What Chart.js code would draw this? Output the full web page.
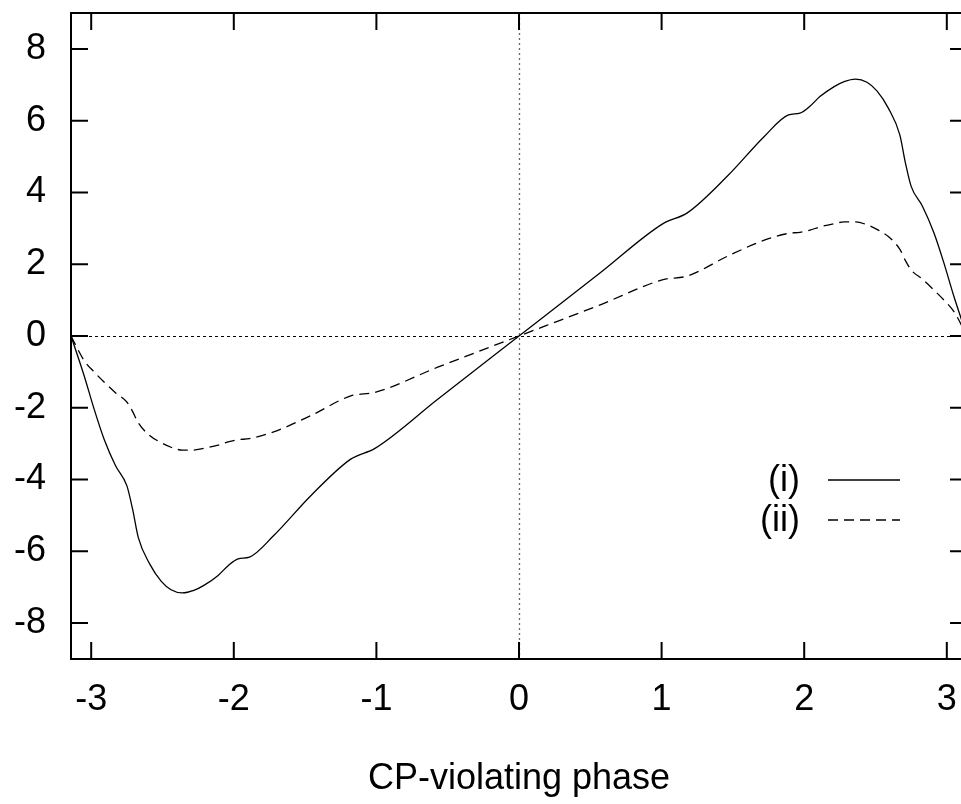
<!DOCTYPE html>
<html>
<head>
<meta charset="utf-8">
<script src="https://cdn.jsdelivr.net/npm/chart.js@4/dist/chart.umd.min.js"></script>
<style>
    html, body { margin: 0; padding: 0; background: #fff; overflow: hidden; }
    #wrap { width: 980px; height: 804px; position: relative; }
</style>
</head>
<body>
<div id="wrap"><canvas id="phaseChart"></canvas></div>
<script>
// CP-violating phase (x) and the two curves
const phase = [
    -3.1416, -3.05, -2.98, -2.91, -2.83, -2.75, -2.71, -2.67, -2.59, -2.51, -2.44, -2.36,
    -2.28, -2.21, -2.11, -2.04, -1.97, -1.89, -1.72, -1.46, -1.18, -1.01, -0.57, 0,
    0.57, 1.01, 1.18, 1.46, 1.72, 1.89, 1.97, 2.04, 2.11, 2.21, 2.28, 2.36,
    2.44, 2.51, 2.59, 2.67, 2.71, 2.75, 2.83, 2.91, 2.98, 3.05, 3.1416
];
const seriesI = [
    0, -1.10, -2.03, -2.87, -3.61, -4.17, -4.82, -5.61, -6.35, -6.83, -7.07, -7.16,
    -7.09, -6.95, -6.67, -6.40, -6.21, -6.16, -5.56, -4.45, -3.43, -3.13, -1.76, 0,
    1.76, 3.13, 3.43, 4.45, 5.56, 6.16, 6.21, 6.40, 6.67, 6.95, 7.09, 7.16,
    7.07, 6.83, 6.35, 5.61, 4.82, 4.17, 3.61, 2.87, 2.03, 1.10, 0
];
const seriesII = [
    0, -0.68, -1.00, -1.28, -1.58, -1.84, -2.10, -2.42, -2.77, -2.97, -3.10, -3.18,
    -3.18, -3.13, -3.04, -2.95, -2.89, -2.86, -2.67, -2.22, -1.67, -1.57, -0.87, 0,
    0.87, 1.57, 1.67, 2.22, 2.67, 2.86, 2.89, 2.95, 3.04, 3.13, 3.18, 3.18,
    3.10, 2.97, 2.77, 2.42, 2.10, 1.84, 1.58, 1.28, 1.00, 0.68, 0
];
const xTicks = [-3, -2, -1, 0, 1, 2, 3];
const yTicks = [-8, -6, -4, -2, 0, 2, 4, 6, 8];
const legendLabels = ['(i)', '(ii)'];

const FONT = 'Liberation Sans, Arial, Helvetica, sans-serif';

// gnuplot-like frame, inward ticks, zero lines and key
const framePlugin = {
    id: 'frame',
    beforeDatasetsDraw(chart) {
        const { ctx, chartArea: a, scales: { x, y } } = chart;
        ctx.save();
        // zero lines
        ctx.lineWidth = 1;
        ctx.setLineDash([3, 3]);
        ctx.strokeStyle = '#000';
        const y0 = Math.round(y.getPixelForValue(0)) + 0.5;
        ctx.beginPath(); ctx.moveTo(a.left, y0); ctx.lineTo(a.right, y0); ctx.stroke();
        ctx.setLineDash([2, 3]);
        ctx.strokeStyle = '#666';
        ctx.lineWidth = 1.3;
        const x0 = Math.round(x.getPixelForValue(0)) + 0.5;
        ctx.beginPath(); ctx.moveTo(x0, a.top); ctx.lineTo(x0, a.bottom); ctx.stroke();
        ctx.restore();
    },
    afterDatasetsDraw(chart) {
        const { ctx, chartArea: a, scales: { x, y } } = chart;
        ctx.save();
        ctx.strokeStyle = '#000';
        ctx.lineWidth = 2;
        ctx.setLineDash([]);
        ctx.strokeRect(a.left, a.top, a.right - a.left, a.bottom - a.top);
        const tl = 17;
        ctx.beginPath();
        xTicks.forEach(v => {
            const px = x.getPixelForValue(v);
            ctx.moveTo(px, a.bottom); ctx.lineTo(px, a.bottom - tl);
            ctx.moveTo(px, a.top); ctx.lineTo(px, a.top + tl);
        });
        yTicks.forEach(v => {
            const py = y.getPixelForValue(v);
            ctx.moveTo(a.left, py); ctx.lineTo(a.left + tl, py);
            ctx.moveTo(a.right, py); ctx.lineTo(a.right - tl, py);
        });
        ctx.stroke();

        // key
        ctx.font = '36px ' + FONT;
        ctx.fillStyle = '#000';
        ctx.textAlign = 'right';
        ctx.textBaseline = 'middle';
        const rows = [{ y: 480, dash: [] }, { y: 520, dash: [10, 6] }];
        rows.forEach((r, i) => {
            ctx.fillText(legendLabels[i], 800, r.y + 1);
            ctx.lineWidth = 1.3;
            ctx.setLineDash(r.dash);
            ctx.beginPath(); ctx.moveTo(828, r.y); ctx.lineTo(900, r.y); ctx.stroke();
        });
        ctx.restore();
    }
};

const pts = arr => phase.map((p, i) => ({ x: p, y: arr[i] }));

new Chart(document.getElementById('phaseChart'), {
    type: 'line',
    data: {
        datasets: [
            {
                label: legendLabels[0],
                data: pts(seriesI),
                borderColor: '#000',
                borderWidth: 1.3,
                pointRadius: 0,
                cubicInterpolationMode: 'monotone'
            },
            {
                label: legendLabels[1],
                data: pts(seriesII),
                borderColor: '#000',
                borderWidth: 1.3,
                borderDash: [10, 6],
                pointRadius: 0,
                cubicInterpolationMode: 'monotone'
            }
        ]
    },
    options: {
        responsive: true,
        maintainAspectRatio: false,
        animation: false,
        layout: { padding: { top: 13, right: 13, left: 0, bottom: 0 } },
        plugins: { legend: { display: false }, tooltip: { enabled: false } },
        scales: {
            x: {
                type: 'linear',
                min: -Math.PI,
                max: Math.PI,
                afterBuildTicks: s => { s.ticks = xTicks.map(v => ({ value: v })); },
                afterFit: s => { s.height = 145; s.paddingLeft = 0; s.paddingRight = 0; },
                grid: { display: false, drawTicks: false },
                border: { display: false },
                ticks: { color: '#000', font: { family: FONT, size: 36 }, padding: 19, maxRotation: 0, autoSkip: false },
                title: {
                    display: true,
                    text: 'CP-violating phase',
                    color: '#000',
                    font: { family: FONT, size: 36 },
                    padding: { top: 0, bottom: 3 }
                }
            },
            y: {
                min: -9,
                max: 9,
                afterBuildTicks: s => { s.ticks = yTicks.map(v => ({ value: v })); },
                afterFit: s => { s.width = 71; s.paddingTop = 0; s.paddingBottom = 0; },
                grid: { display: false, drawTicks: false },
                border: { display: false },
                ticks: { color: '#000', font: { family: FONT, size: 36 }, padding: 25, autoSkip: false }
            }
        }
    },
    plugins: [framePlugin]
});
</script>
</body>
</html>
